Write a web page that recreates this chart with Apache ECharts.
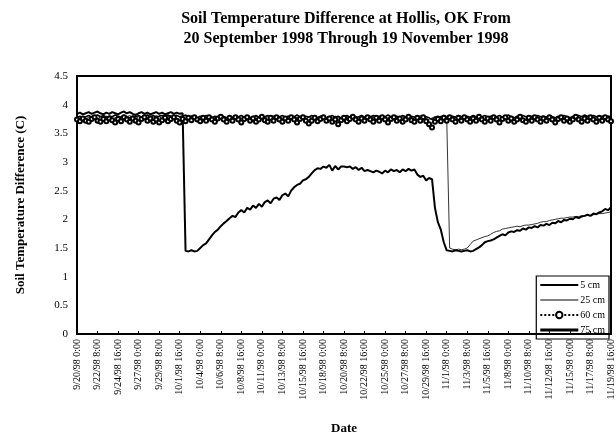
<!DOCTYPE html>
<html>
<head>
<meta charset="utf-8">
<script src="https://cdn.jsdelivr.net/npm/echarts@6/dist/echarts.min.js"></script>
<style>html,body{margin:0;padding:0;background:#fff}#c{width:616px;height:440px}</style>
</head>
<body>
<div id="c"></div>
<script>
// Sampling: every 8 hours from 9/20/98 0:00 to 11/19/98 16:00
const startUTC = Date.UTC(1998, 8, 20, 0);
const stepHours = 8;

const seriesNames = ['5 cm', '25 cm', '60 cm', '75 cm'];

const temp5cm = [
3.84,3.86,3.83,3.85,3.87,3.84,3.86,3.88,3.85,3.83,
3.86,3.84,3.87,3.85,3.83,3.86,3.88,3.85,3.87,3.84,
3.82,3.85,3.87,3.84,3.86,3.83,3.85,3.87,3.84,3.86,
3.83,3.85,3.87,3.84,3.86,3.84,3.85,
1.45,1.44,1.46,1.44,1.45,1.50,1.55,1.58,1.65,1.72,
1.78,1.82,1.88,1.93,1.97,2.02,2.06,2.04,2.12,2.16,
2.12,2.20,2.17,2.24,2.20,2.27,2.22,2.30,2.33,2.28,
2.36,2.38,2.34,2.42,2.45,2.40,2.50,2.56,2.60,2.62,
2.68,2.70,2.74,2.80,2.86,2.89,2.88,2.92,2.90,2.95,
2.85,2.93,2.87,2.92,2.92,2.91,2.92,2.88,2.91,2.86,
2.90,2.84,2.86,2.84,2.82,2.85,2.83,2.80,2.85,2.82,
2.87,2.84,2.86,2.82,2.87,2.84,2.88,2.85,2.87,2.78,
2.74,2.76,2.68,2.72,2.70,2.20,1.95,1.82,1.60,1.46,
1.45,1.44,1.46,1.45,1.44,1.45,1.46,1.44,1.45,1.48,
1.51,1.55,1.60,1.62,1.63,1.65,1.68,1.71,1.74,1.72,
1.77,1.79,1.78,1.81,1.80,1.84,1.82,1.86,1.85,1.88,
1.86,1.90,1.89,1.92,1.90,1.94,1.93,1.97,1.95,1.99,
1.98,2.01,2.00,2.04,2.02,2.05,2.06,2.08,2.06,2.10,
2.09,2.12,2.14,2.18,2.16,2.21
];

const temp25cm = [
3.76,3.79,3.77,3.75,3.78,3.80,3.77,3.75,3.79,3.77,
3.80,3.78,3.75,3.77,3.80,3.78,3.76,3.79,3.81,3.78,
3.76,3.79,3.77,3.80,3.78,3.75,3.78,3.81,3.79,3.76,
3.78,3.80,3.77,3.79,3.82,3.78,3.76,3.79,3.77,3.80,
3.78,3.75,3.77,3.80,3.78,3.76,3.79,3.77,3.75,3.78,
3.80,3.77,3.75,3.78,3.80,3.78,3.76,3.79,3.77,3.74,
3.77,3.80,3.78,3.75,3.77,3.79,3.76,3.78,3.80,3.77,
3.75,3.78,3.80,3.77,3.75,3.78,3.80,3.78,3.76,3.79,
3.77,3.75,3.78,3.80,3.77,3.75,3.79,3.77,3.80,3.78,
3.76,3.79,3.77,3.75,3.78,3.80,3.77,3.75,3.79,3.77,
3.80,3.78,3.75,3.77,3.80,3.78,3.76,3.79,3.81,3.78,
3.76,3.79,3.77,3.80,3.78,3.75,3.78,3.81,3.79,3.76,
3.73,3.77,3.79,3.77,3.80,3.78,3.77,
1.50,1.48,1.47,1.48,1.47,1.48,1.50,1.56,1.62,1.64,
1.66,1.68,1.70,1.71,1.74,1.77,1.79,1.80,1.83,1.84,
1.85,1.86,1.87,1.88,1.87,1.89,1.90,1.90,1.91,1.92,
1.93,1.95,1.96,1.96,1.98,1.99,2.00,2.01,2.02,2.02,
2.03,2.04,2.04,2.05,2.05,2.06,2.06,2.07,2.07,2.08,
2.09,2.10,2.10,2.11,2.12,2.13
];

const temp60cm = [
3.74,3.71,3.76,3.72,3.70,3.75,3.78,3.72,3.70,3.75,
3.71,3.76,3.73,3.69,3.75,3.71,3.78,3.74,3.70,3.76,
3.72,3.69,3.75,3.78,3.72,3.76,3.70,3.74,3.69,3.73,
3.77,3.71,3.75,3.78,3.72,3.69,3.75,3.71,3.77,3.73,
3.78,3.74,3.71,3.77,3.72,3.78,3.74,3.70,3.76,3.79,
3.74,3.70,3.77,3.72,3.78,3.74,3.69,3.75,3.78,3.72,
3.76,3.70,3.74,3.79,3.73,3.70,3.77,3.72,3.78,3.74,
3.70,3.76,3.72,3.78,3.74,3.69,3.75,3.78,3.72,3.67,
3.72,3.77,3.71,3.75,3.78,3.72,3.76,3.70,3.74,3.66,
3.73,3.77,3.71,3.75,3.79,3.74,3.70,3.76,3.72,3.78,
3.74,3.70,3.77,3.72,3.78,3.74,3.69,3.75,3.78,3.72,
3.76,3.70,3.74,3.79,3.73,3.70,3.77,3.72,3.78,3.71,
3.66,3.60,3.70,3.75,3.71,3.77,3.72,3.78,3.74,3.70,
3.77,3.72,3.78,3.74,3.70,3.76,3.72,3.79,3.74,3.70,
3.76,3.72,3.78,3.74,3.69,3.75,3.78,3.72,3.76,3.70,
3.74,3.79,3.73,3.70,3.77,3.72,3.78,3.74,3.70,3.76,
3.72,3.78,3.74,3.69,3.75,3.78,3.72,3.76,3.70,3.74,
3.79,3.74,3.70,3.76,3.72,3.78,3.74,3.70,3.77,3.72,
3.78,3.74,3.71
];

const temp75cm = [
3.78,3.80,3.77,3.79,3.81,3.78,3.80,3.82,3.79,3.81,
3.78,3.80,3.79,3.82,3.80,3.78,3.81,3.79,3.77,3.80,
3.79,3.81,3.78,3.80,3.82,3.79,3.81,3.78,3.80,3.81,
3.79,3.82,3.80,3.78,3.81,3.79,3.80,3.82,3.78,3.80,
3.79,3.77,3.80,3.78,3.81,3.79,3.77,3.80,3.78,3.81,
3.79,3.77,3.80,3.78,3.76,3.79,3.81,3.78,3.80,3.77,
3.79,3.81,3.78,3.76,3.79,3.81,3.78,3.80,3.77,3.79,
3.81,3.78,3.80,3.77,3.79,3.82,3.79,3.77,3.80,3.78,
3.81,3.79,3.77,3.80,3.78,3.76,3.79,3.81,3.78,3.80,
3.77,3.79,3.81,3.78,3.80,3.77,3.79,3.81,3.78,3.76,
3.79,3.81,3.78,3.80,3.77,3.79,3.82,3.79,3.77,3.80,
3.78,3.81,3.79,3.77,3.80,3.78,3.80,3.78,3.76,3.79,
3.77,3.74,3.78,3.80,3.78,3.81,3.79,3.77,3.80,3.78,
3.81,3.79,3.77,3.80,3.78,3.81,3.79,3.76,3.79,3.81,
3.78,3.80,3.77,3.79,3.81,3.78,3.80,3.82,3.79,3.77,
3.80,3.78,3.81,3.79,3.77,3.80,3.78,3.81,3.79,3.80,
3.78,3.81,3.79,3.77,3.80,3.78,3.81,3.79,3.77,3.80,
3.78,3.81,3.79,3.82,3.80,3.78,3.81,3.79,3.77,3.80,
3.78,3.80,3.79
];

function fmtLabel(i) {
  const d = new Date(startUTC + i * stepHours * 3600000);
  return (d.getUTCMonth() + 1) + '/' + d.getUTCDate() + '/' +
    String(d.getUTCFullYear()).slice(2) + ' ' + d.getUTCHours() + ':00';
}
const categories = temp5cm.map((_, i) => fmtLabel(i));

const serif = "'Liberation Serif', 'Times New Roman', serif";
const chart = echarts.init(document.getElementById('c'), null, { renderer: 'canvas' });

chart.setOption({
  animation: false,
  backgroundColor: '#fff',
  title: {
    text: 'Soil Temperature Difference at Hollis, OK From\n20 September 1998 Through 19 November 1998',
    left: 341, top: 4, textAlign: 'center',
    textStyle: { fontFamily: serif, fontSize: 16, fontWeight: 'bold', color: '#000', lineHeight: 20 }
  },
  legend: {
    orient: 'vertical',
    right: 7, top: 276,
    data: [
      { name: seriesNames[0], icon: 'path://M0,0H38V2H0Z' },
      { name: seriesNames[1], icon: 'path://M0,0H38V1H0Z' },
      { name: seriesNames[2], itemStyle: { color: '#000', borderColor: '#000', borderWidth: 1 } },
      { name: seriesNames[3], icon: 'path://M0,0H38V3H0Z' }
    ],
    itemWidth: 38, itemHeight: 8, itemGap: 5,
    padding: [4, 4, 4, 3],
    borderColor: '#000', borderWidth: 1.2,
    textStyle: { fontFamily: serif, fontSize: 10, color: '#000', padding: [0, 0, 0, -3] }
  },
  grid: {
    left: 77, right: 3, top: 76, bottom: 97,
    show: true, borderColor: '#000', borderWidth: 2
  },
  xAxis: {
    type: 'category',
    data: categories,
    boundaryGap: false,
    name: 'Date', nameLocation: 'middle', nameGap: 88,
    nameTextStyle: { fontFamily: serif, fontSize: 13, fontWeight: 'bold', color: '#000' },
    axisLine: { lineStyle: { color: '#000', width: 2 } },
    axisTick: { show: true, inside: true, length: 3, interval: 6, lineStyle: { color: '#000' } },
    axisLabel: { interval: 6, rotate: 90, fontFamily: serif, fontSize: 10, color: '#000', margin: 5 },
    splitLine: { show: false }
  },
  yAxis: {
    type: 'value',
    min: 0, max: 4.5, interval: 0.5,
    name: 'Soil Temperature Difference (C)', nameLocation: 'middle', nameGap: 50,
    nameTextStyle: { fontFamily: serif, fontSize: 13, fontWeight: 'bold', color: '#000' },
    axisLine: { show: true, lineStyle: { color: '#000', width: 2 } },
    axisTick: { show: false },
    axisLabel: { fontFamily: serif, fontSize: 11, color: '#000', margin: 9 },
    splitLine: { show: false }
  },
  series: [
    { name: '5 cm', type: 'line', data: temp5cm, symbol: 'none', z: 3,
      lineStyle: { color: '#000', width: 2 }, itemStyle: { color: '#000' } },
    { name: '25 cm', type: 'line', data: temp25cm, symbol: 'none', z: 3,
      lineStyle: { color: '#000', width: 0.8 }, itemStyle: { color: '#000' } },
    { name: '75 cm', type: 'line', data: temp75cm, symbol: 'none', z: 2,
      lineStyle: { color: '#000', width: 1.6 }, itemStyle: { color: '#000' } },
    { name: '60 cm', type: 'line', data: temp60cm, symbol: 'emptyCircle', symbolSize: 4,
      showAllSymbol: true, z: 4,
      lineStyle: { color: '#000', width: 0.8, type: [2, 2] },
      itemStyle: { color: '#000', borderColor: '#000', borderWidth: 0.7 } }
  ]
});
</script>
</body>
</html>
